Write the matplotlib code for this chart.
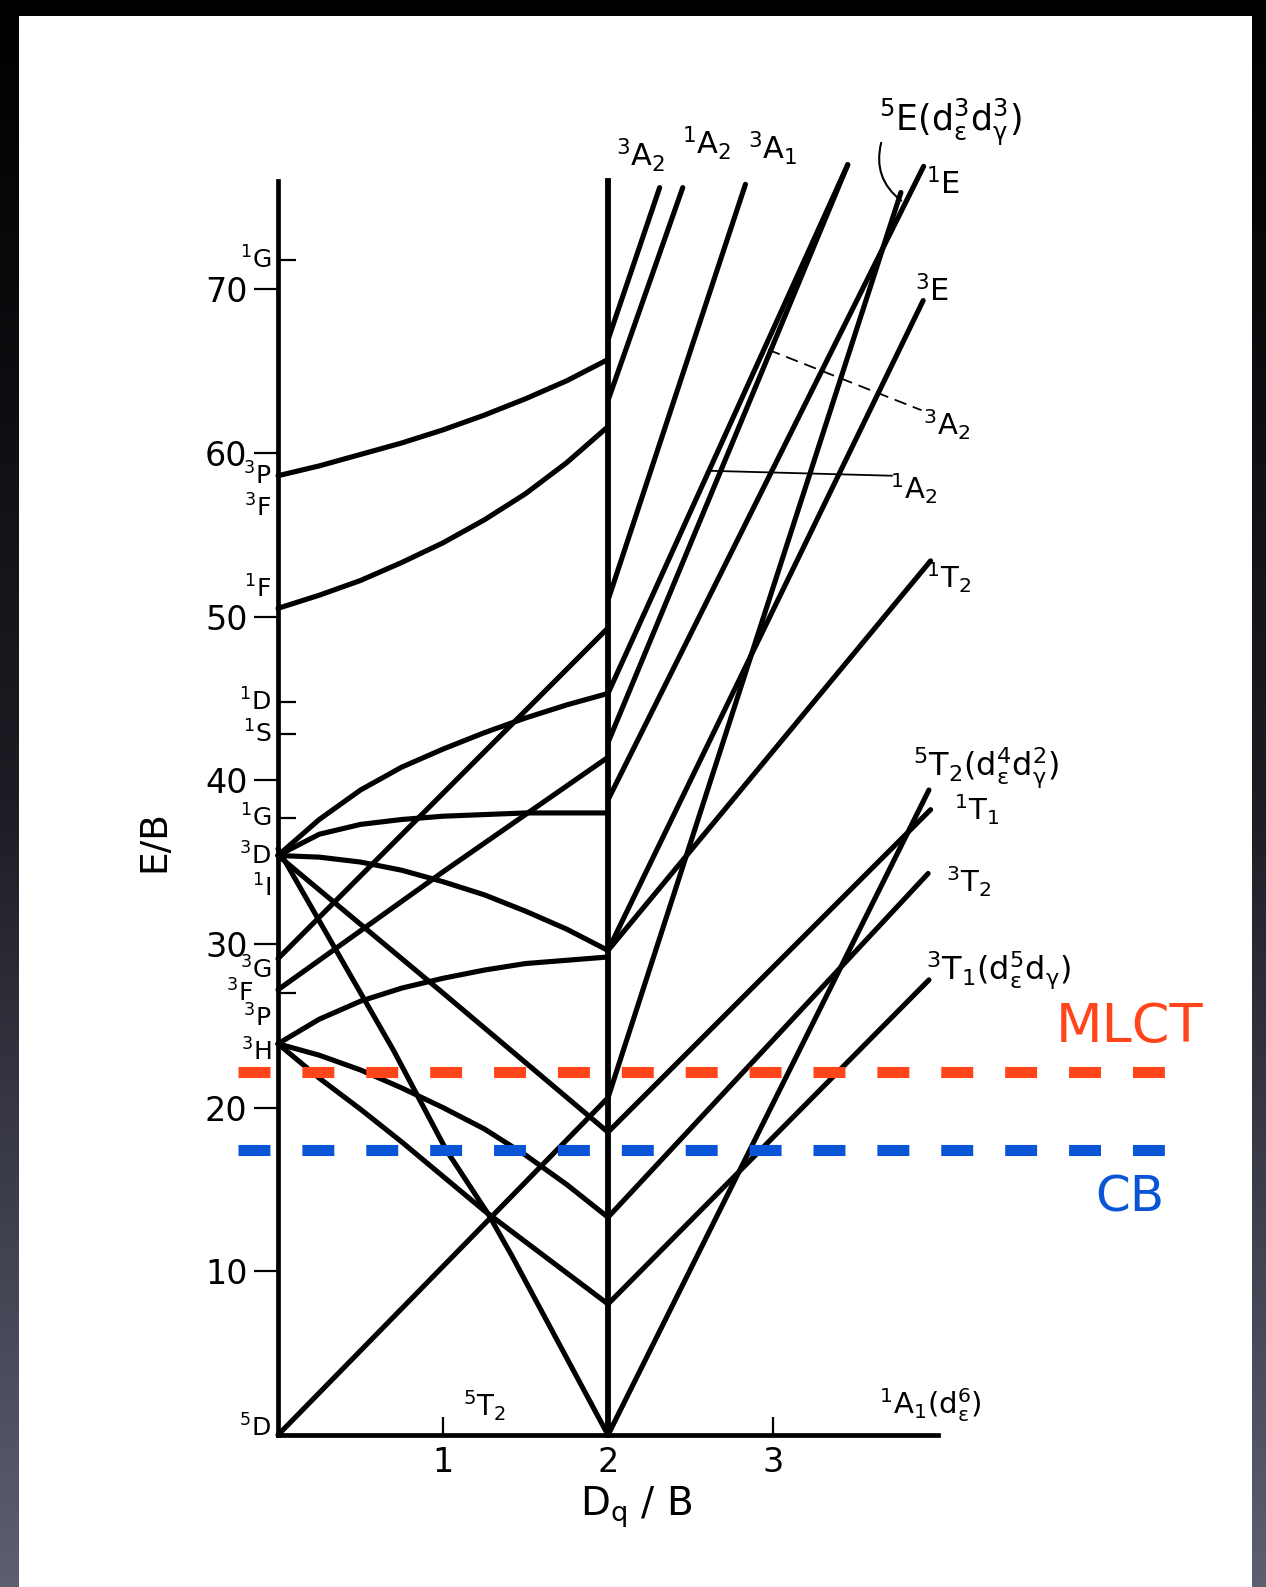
import numpy as np
import matplotlib
matplotlib.use('Agg')
import matplotlib.pyplot as plt
from matplotlib.patches import Rectangle
from matplotlib.colors import LinearSegmentedColormap

plt.rcParams['mathtext.fontset'] = 'dejavusans'
plt.rcParams['mathtext.default'] = 'regular'
plt.rcParams['lines.scale_dashes'] = False

# axis ticks
y_ticks = [10, 20, 30, 40, 50, 60, 70]
x_ticks = [1, 2, 3]
term_ticks = [71.8, 44.8, 42.8, 37.7, 27.0]   # 1G, 1D, 1S, 1G, 3F markers on E/B axis
axis_top = 76.6
crossover = 2.0

# weak field side (Dq/B 0..2), E/B relative to 5T2
dq = [0, 0.25, 0.5, 0.75, 1.0, 1.25, 1.5, 1.75, 2.0]
c_3P = (dq, [58.6, 59.2, 59.9, 60.6, 61.4, 62.3, 63.3, 64.4, 65.7])
c_1F = (dq, [50.5, 51.3, 52.2, 53.3, 54.5, 55.9, 57.5, 59.4, 61.6])
c_3D_up = (dq, [35.4, 37.6, 39.4, 40.8, 41.9, 42.9, 43.8, 44.6, 45.3])
c_1G = (dq, [35.4, 36.7, 37.3, 37.6, 37.8, 37.9, 38.0, 38.0, 38.0])
c_3D_dn = (dq, [35.4, 35.3, 35.0, 34.5, 33.8, 33.0, 32.0, 30.9, 29.6])
c_3H_up = (dq, [23.9, 25.4, 26.5, 27.3, 27.9, 28.4, 28.8, 29.0, 29.2])
c_3T2 = (dq, [23.9, 23.2, 22.3, 21.2, 20.0, 18.7, 17.1, 15.3, 13.3])
c_3T1 = (dq, [23.9, 21.8, 19.9, 17.9, 15.8, 13.7, 11.8, 9.9, 8.0])
c_3G = ([0, 1.0, 2.0], [29.1, 39.2, 49.3])
c_3F = ([0, 1.0, 2.0], [27.2, 34.4, 41.4])
c_1T1 = ([0, 1.0, 2.0], [35.4, 27.0, 18.5])
c_1A1 = ([0, 0.70, 1.02, 1.28, 1.42, 2.0], [35.8, 23.5, 17.4, 13.4, 10.9, 0.0])
c_5E = ([0, 2.0], [0.0, 20.6])
weak_curves = [c_3P, c_1F, c_3G, c_3F, c_3D_up, c_1G, c_3D_dn, c_1T1,
               c_1A1, c_3H_up, c_3T2, c_3T1, c_5E]

# strong field side (Dq/B > 2), E/B relative to 1A1: (start, end) points
s_5T2 = ([2.0, 3.945], [0.0, 39.4])
s_3T1 = ([2.0, 3.945], [8.0, 27.8])
s_3T2 = ([2.0, 3.94], [13.3, 34.3])
s_1T1 = ([2.0, 3.955], [18.5, 38.2])
s_5E = ([2.0, 3.775], [20.6, 75.9])
s_1T2 = ([2.0, 3.955], [29.6, 53.4])
s_3E = ([2.0, 3.91], [29.6, 69.3])
s_1E = ([2.0, 3.913], [38.8, 77.5])
s_a = ([2.0, 3.453], [42.3, 77.6])
s_b = ([2.0, 3.453], [45.3, 77.6])
s_3A1 = ([2.0, 2.833], [51.0, 76.4])
s_1A2 = ([2.0, 2.453], [63.2, 76.2])
s_3A2 = ([2.0, 2.313], [66.9, 76.2])
strong_lines = [s_5T2, s_3T1, s_3T2, s_1T1, s_5E, s_1T2, s_3E, s_1E,
                s_a, s_b, s_3A1, s_1A2, s_3A2]

# thin marker lines for the t2^4 e^2 3A2 / 1A2 states
mark_3A2 = ([2.97, 3.90], [66.3, 62.6])
mark_1A2 = ([2.62, 3.72], [58.9, 58.6])

# band edges
mlct_level = 22.2
cb_level = 17.4
level_span = [-0.24, 5.38]

fig = plt.figure(figsize=(12.66, 15.87), dpi=100)

# dark frame behind the white page
bg = fig.add_axes([0, 0, 1, 1], zorder=0)
frame = LinearSegmentedColormap.from_list('frame', ['#000000', '#1c1c24', '#5d5f71'])
bg.imshow(np.linspace(0, 1, 256)[:, None], cmap=frame, aspect='auto', extent=[0, 1, 0, 1])
bg.add_patch(Rectangle((19 / 1266, 0), (1252 - 19) / 1266, (1587 - 16) / 1587,
                       facecolor='white', edgecolor='none'))
bg.set_xlim(0, 1)
bg.set_ylim(0, 1)
bg.axis('off')

ax = fig.add_axes([278 / 1266, (1587 - 1435) / 1587, 660 / 1266, 16.37 * axis_top / 1587], zorder=1)
ax.patch.set_alpha(0)
ax.set_xlim(0, 4.0)
ax.set_ylim(0, axis_top)
for s in ['top', 'right']:
    ax.spines[s].set_visible(False)
for s in ['left', 'bottom']:
    ax.spines[s].set_linewidth(3.4)

ax.set_yticks(y_ticks)
ax.set_yticks(term_ticks, minor=True)
ax.set_xticks(x_ticks)
ax.tick_params(axis='y', which='major', direction='out', length=17, width=1.6, pad=5, labelsize=24)
ax.tick_params(axis='y', which='minor', direction='in', length=13, width=1.6)
ax.tick_params(axis='x', direction='in', length=13, width=1.6, pad=8, labelsize=24)

lw = 3.7
for x, y in weak_curves:
    ax.plot(x, y, color='black', lw=lw, solid_capstyle='round', solid_joinstyle='round', clip_on=False)
for x, y in strong_lines:
    ax.plot(x, y, color='black', lw=lw, solid_capstyle='round', clip_on=False)
ax.plot([crossover, crossover], [0, axis_top], color='black', lw=4.2, clip_on=False)

ax.plot(*mark_3A2, color='black', lw=1.3, ls=(0, (9, 5)), clip_on=False)
ax.plot(*mark_1A2, color='black', lw=1.3, clip_on=False)

# hook from the 5E label to its line
ax.annotate('', xy=(3.79, 75.3), xytext=(3.66, 79.1),
            arrowprops=dict(arrowstyle='-', lw=1.5, color='black',
                            connectionstyle='arc3,rad=0.35'))

# free ion terms
left_terms = [(r'$^{1}$G', 71.8), (r'$^{3}$P', 58.6), (r'$^{3}$F', 56.6), (r'$^{1}$F', 51.7),
              (r'$^{1}$D', 44.8), (r'$^{1}$S', 42.8), (r'$^{1}$G', 37.7), (r'$^{3}$D', 35.4),
              (r'$^{1}$I', 33.4), (r'$^{3}$G', 28.4), (r'$^{3}$P', 25.5), (r'$^{3}$H', 23.4),
              (r'$^{5}$D', 0.4)]
for txt, yv in left_terms:
    ax.text(-0.04, yv, txt, fontsize=18, ha='right', va='center', clip_on=False)
ax.text(-0.15, 27.0, r'$^{3}$F', fontsize=18, ha='right', va='center')

ax.text(1.12, 1.8, r'$^{5}$T$_{2}$', fontsize=20, ha='left', va='center')
ax.text(3.64, 1.8, r'$^{1}$A$_{1}$(d$_{\epsilon}^{6}$)', fontsize=21, ha='left', va='center')

ax.text(2.20, 78.2, r'$^{3}$A$_{2}$', fontsize=22, ha='center', va='center', clip_on=False)
ax.text(2.60, 78.9, r'$^{1}$A$_{2}$', fontsize=22, ha='center', va='center', clip_on=False)
ax.text(3.00, 78.6, r'$^{3}$A$_{1}$', fontsize=22, ha='center', va='center', clip_on=False)
ax.text(3.64, 80.2, r'$^{5}$E(d$_{\epsilon}^{3}$d$_{\gamma}^{3}$)', fontsize=25, ha='left', va='center', clip_on=False)
ax.text(3.93, 76.4, r'$^{1}$E', fontsize=22, ha='left', va='center', clip_on=False)
ax.text(3.86, 69.9, r'$^{3}$E', fontsize=22, ha='left', va='center', clip_on=False)
ax.text(3.91, 61.7, r'$^{3}$A$_{2}$', fontsize=21, ha='left', va='center', clip_on=False)
ax.text(3.71, 57.8, r'$^{1}$A$_{2}$', fontsize=21, ha='left', va='center', clip_on=False)
ax.text(3.93, 52.4, r'$^{1}$T$_{2}$', fontsize=21, ha='left', va='center', clip_on=False)
ax.text(3.85, 40.8, r'$^{5}$T$_{2}$(d$_{\epsilon}^{4}$d$_{\gamma}^{2}$)', fontsize=23, ha='left', va='center', clip_on=False)
ax.text(4.10, 38.2, r'$^{1}$T$_{1}$', fontsize=21, ha='left', va='center', clip_on=False)
ax.text(4.05, 33.8, r'$^{3}$T$_{2}$', fontsize=21, ha='left', va='center', clip_on=False)
ax.text(3.93, 28.4, r'$^{3}$T$_{1}$(d$_{\epsilon}^{5}$d$_{\gamma}$)', fontsize=23, ha='left', va='center', clip_on=False)

ax.text(-0.75, 36.3, 'E/B', fontsize=27, rotation=90, ha='center', va='center', clip_on=False)
ax.text(2.17, -4.4, r'D$_{q}$ / B', fontsize=28, ha='center', va='center', clip_on=False)

# MLCT and CB levels
ax.plot(level_span, [mlct_level, mlct_level], color='#ff4519', lw=8, dashes=(23, 23),
        dash_capstyle='butt', clip_on=False, zorder=5)
ax.plot(level_span, [cb_level, cb_level], color='#0a55d6', lw=8, dashes=(23, 23),
        dash_capstyle='butt', clip_on=False, zorder=5)
ax.text(5.16, 24.9, 'MLCT', color='#ff4519', fontsize=39, ha='center', va='center', clip_on=False)
ax.text(5.16, 14.5, 'CB', color='#0a55d6', fontsize=36, ha='center', va='center', clip_on=False)

fig.savefig('out.png', dpi=100)
